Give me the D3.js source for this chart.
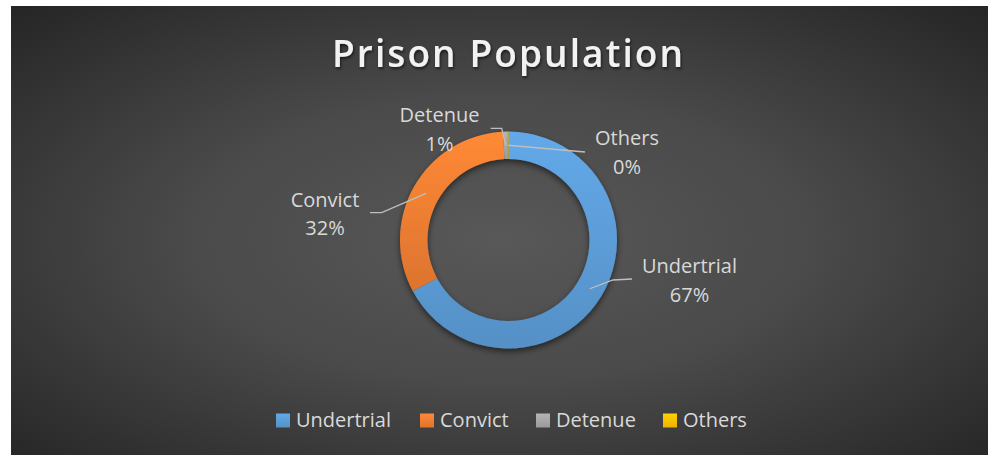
<!DOCTYPE html>
<html>
<head>
<meta charset="utf-8">
<script src="https://cdn.jsdelivr.net/npm/d3@7"></script>
<style>
  html, body { margin: 0; padding: 0; background: #ffffff; }
  svg { display: block; }
</style>
</head>
<body>
<div id="wrapper"></div>
<script>
const categories = ["Undertrial", "Convict", "Detenue", "Others"];
const values = [67.2, 32.0, 0.7, 0.1];
const percentLabels = ["67%", "32%", "1%", "0%"];
const colors = ["#5b9bd5", "#ed7d31", "#a5a5a5", "#ffc000"];
const titleText = "Prison Population";

// label layout, offsets from the donut centre
const labelLayout = [
    {elbow: [104.5, 40], end: [123.5, 39], text: [181, 33]},
    {elbow: [-126.8, -27.3], end: [-138.5, -27.3], text: [-183.5, -33.3]},
    {elbow: [-6.8, -111.7], end: [-17.8, -111.7], text: [-69, -118]},
    {elbow: null, end: [76.5, -88], text: [118.5, -95]}
];

function buildChart(){
    const dimension = {
        width: 989,
        height: 455,
        frame: {left: 11, top: 6, right: 988, bottom: 455}
    };
    const cx = 508.5, cy = 240;
    const outerR = 108.5, innerR = 81;
    const font = "'Open Sans', 'Noto Sans', sans-serif";

    const svg = d3.select("#wrapper").append("svg")
        .attr("width", dimension.width)
        .attr("height", dimension.height);

    const defs = svg.append("defs");

    const bg = defs.append("radialGradient")
        .attr("id", "bgGrad")
        .attr("cx", 0.5).attr("cy", 0.52).attr("r", 0.71);
    bg.append("stop").attr("offset", 0).attr("stop-color", "#585858");
    bg.append("stop").attr("offset", 0.45).attr("stop-color", "#4a4a4a");
    bg.append("stop").attr("offset", 1).attr("stop-color", "#262626");

    colors.forEach((c, i) => {
        const g = defs.append("linearGradient")
            .attr("id", "sliceGrad" + i)
            .attr("x1", 0).attr("y1", 0).attr("x2", 0).attr("y2", 1);
        g.append("stop").attr("offset", 0).attr("stop-color", d3.color(c).brighter(0.25));
        g.append("stop").attr("offset", 1).attr("stop-color", d3.color(c).darker(0.2));
    });

    const shadow = defs.append("filter").attr("id", "ringShadow")
        .attr("x", "-20%").attr("y", "-20%").attr("width", "140%").attr("height", "140%");
    shadow.append("feDropShadow")
        .attr("dx", 0).attr("dy", 3).attr("stdDeviation", 3)
        .attr("flood-color", "#000").attr("flood-opacity", 0.55);

    const tShadow = defs.append("filter").attr("id", "titleShadow")
        .attr("x", "-10%").attr("y", "-30%").attr("width", "120%").attr("height", "160%");
    tShadow.append("feDropShadow")
        .attr("dx", 1).attr("dy", 2).attr("stdDeviation", 1.5)
        .attr("flood-color", "#000").attr("flood-opacity", 0.6);

    // chart area
    svg.append("rect")
        .attr("x", dimension.frame.left)
        .attr("y", dimension.frame.top)
        .attr("width", dimension.frame.right - dimension.frame.left)
        .attr("height", dimension.frame.bottom - dimension.frame.top)
        .attr("fill", "url(#bgGrad)");

    // title
    svg.append("text")
        .attr("x", 507.5)
        .attr("y", 67)
        .attr("text-anchor", "middle")
        .attr("textLength", 351)
        .attr("lengthAdjust", "spacing")
        .style("font-family", font)
        .style("font-weight", 600)
        .style("font-size", "37px")
        .attr("fill", "#f2f2f2")
        .attr("filter", "url(#titleShadow)")
        .text(titleText);

    const pie = d3.pie().sort(null).value(d => d);
    const arcs = pie(values);
    const arc = d3.arc().innerRadius(innerR).outerRadius(outerR);

    const chart = svg.append("g").attr("transform", `translate(${cx},${cy})`);

    chart.append("g")
        .attr("filter", "url(#ringShadow)")
        .selectAll("path")
        .data(arcs)
        .join("path")
        .attr("d", arc)
        .attr("fill", (d, i) => `url(#sliceGrad${i})`);

    // leader lines
    chart.selectAll("polyline.leader")
        .data(arcs)
        .join("polyline")
        .attr("class", "leader")
        .attr("points", (d, i) => {
            const pts = [arc.centroid(d)];
            if (labelLayout[i].elbow) pts.push(labelLayout[i].elbow);
            pts.push(labelLayout[i].end);
            return pts.map(p => p.join(",")).join(" ");
        })
        .attr("fill", "none")
        .attr("stroke", "#bfbfbf")
        .attr("stroke-width", 1.3);

    // data labels
    const labels = chart.selectAll("text.dlabel")
        .data(arcs)
        .join("text")
        .attr("class", "dlabel")
        .attr("text-anchor", "middle")
        .style("font-family", font)
        .style("font-size", "20px")
        .attr("fill", "#d9d9d9");
    labels.append("tspan")
        .attr("x", (d, i) => labelLayout[i].text[0])
        .attr("y", (d, i) => labelLayout[i].text[1])
        .text((d, i) => categories[i]);
    labels.append("tspan")
        .attr("x", (d, i) => labelLayout[i].text[0])
        .attr("y", (d, i) => labelLayout[i].text[1] + 28.5)
        .text((d, i) => percentLabels[i]);

    // legend
    const legendX = [276, 420, 536, 663];
    const legend = svg.append("g").selectAll("g")
        .data(categories)
        .join("g")
        .attr("transform", (d, i) => `translate(${legendX[i]},0)`);
    legend.append("rect")
        .attr("x", 0).attr("y", 413.5)
        .attr("width", 14).attr("height", 14)
        .attr("fill", (d, i) => `url(#sliceGrad${i})`);
    legend.append("text")
        .attr("x", 20).attr("y", 427)
        .style("font-family", font)
        .style("font-size", "20px")
        .attr("fill", "#d9d9d9")
        .text(d => d);
}
buildChart();
</script>
</body>
</html>
